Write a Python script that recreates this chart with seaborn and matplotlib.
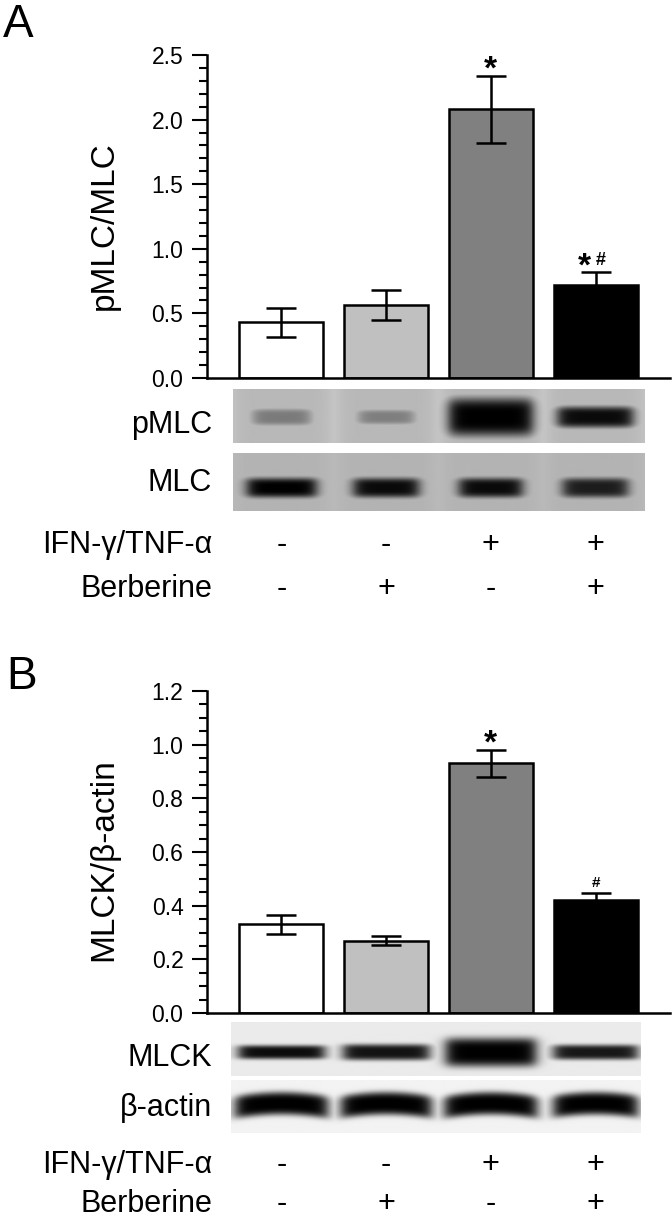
import matplotlib
matplotlib.use('Agg')
import matplotlib.pyplot as plt
import matplotlib.transforms as mtransforms
import numpy as np
import pandas as pd
import seaborn as sns

# ---- data ----
groups = ['Control', 'Berberine', 'IFN/TNF', 'IFN/TNF+Berberine']
bar_colors = ['#ffffff', '#c0c0c0', '#808080', '#000000']

pmlc_ratio = [0.43, 0.565, 2.08, 0.72]
pmlc_sem = [0.115, 0.115, 0.26, 0.10]
pmlc_marks = ['', '', '*', '*#']

mlck_ratio = [0.33, 0.27, 0.93, 0.42]
mlck_sem = [0.035, 0.016, 0.05, 0.028]
mlck_marks = ['', '', '*', '#']

ifn_row = ['-', '-', '+', '+']
berb_row = ['-', '+', '-', '+']

# blot bands per lane: darkness (0 none, 1 black), half-width, thickness
pmlc_band = [0.40, 0.38, 1.0, 0.95]
pmlc_band_w = [0.28, 0.27, 0.40, 0.36]
pmlc_band_h = [0.16, 0.14, 0.36, 0.20]
mlc_band = [1.0, 0.95, 0.95, 0.85]
mlc_band_w = [0.33, 0.31, 0.30, 0.31]
mlck_band = [0.95, 0.92, 1.0, 0.90]
mlck_band_w = [0.41, 0.41, 0.43, 0.40]
mlck_band_h = [0.13, 0.15, 0.27, 0.14]
actin_band = [1.0, 1.0, 1.0, 1.0]
actin_band_w = [0.44, 0.43, 0.44, 0.40]

W, H = 672, 1220
sns.set_style('ticks')
plt.rcParams['font.family'] = ['Liberation Sans', 'DejaVu Sans']
plt.rcParams.update({'text.color': 'black', 'axes.labelcolor': 'black',
                     'xtick.color': 'black', 'ytick.color': 'black',
                     'axes.edgecolor': 'black'})
fig = plt.figure(figsize=(W / 100, H / 100), dpi=100)

XLIM = (-0.71, 3.71)


def px_axes(left, top, right, bottom):
    return fig.add_axes([left / W, 1 - bottom / H, (right - left) / W, (bottom - top) / H])


def bar_panel(top, bottom, vals, sems, marks, ymax, major, minor, ylabel, label_y):
    ax = px_axes(207, top, 670, bottom)
    df = pd.DataFrame({'group': groups, 'value': vals})
    sns.barplot(data=df, x='group', y='value', hue='group', palette=bar_colors,
                edgecolor='black', linewidth=1.8, width=0.8, errorbar=None,
                legend=False, ax=ax, zorder=2)
    ax.errorbar(range(len(vals)), vals, yerr=sems, fmt='none', ecolor='black',
                elinewidth=1.8, capsize=10.5, capthick=1.8, zorder=3)
    ax.set_xlim(*XLIM)
    ax.set_ylim(0, ymax)
    ax.set_yticks(np.arange(0, ymax + 1e-9, major))
    ax.set_yticks(np.arange(0, ymax + 1e-9, minor), minor=True)
    ax.set_yticklabels([f'{v:.1f}' for v in np.arange(0, ymax + 1e-9, major)])
    ax.tick_params(axis='y', which='major', length=11, width=1.5, labelsize=16.5, pad=6)
    ax.tick_params(axis='y', which='minor', length=5.5, width=1.5)
    ax.tick_params(axis='x', bottom=False, labelbottom=False)
    ax.set_xlabel('')
    ax.set_ylabel('')
    for s in ['top', 'right']:
        ax.spines[s].set_visible(False)
    for s in ['left', 'bottom']:
        ax.spines[s].set_linewidth(1.8)
    ax.spines['left'].set_zorder(4)
    # significance marks, placed relative to the top of each error bar
    for i, (v, e, m) in enumerate(zip(vals, sems, marks)):
        if not m:
            continue
        kw = dict(xy=(i, v + e), textcoords='offset points', ha='center',
                  va='baseline', fontweight='bold', annotation_clip=False)
        if m == '*':
            ax.annotate('*', xytext=(0, -2), fontsize=24, **kw)
        elif m == '*#':
            ax.annotate('*', xytext=(-8, -2.5), fontsize=24, **kw)
            ax.annotate('#', xytext=(3.5, 5), fontsize=13, **kw)
        else:
            ax.annotate('#', xytext=(0, 4), fontsize=11, **kw)
    fig.text(104 / W, 1 - label_y / H, ylabel, rotation=90, ha='center', va='center',
             fontsize=24)
    return ax


def blot(top, bottom, x0, x1, bg, amps, widths, heights, yc, curve=0.0, halo=0.0):
    ax = px_axes(207, top, 670, bottom)
    xs = np.linspace(x0, x1, 500)
    ys = np.linspace(0, 1, 80)
    X, Y = np.meshgrid(xs, ys)
    dark = np.zeros_like(X)
    for i, (a, w, h) in enumerate(zip(amps, widths, heights)):
        fx = 1 / (1 + np.exp((np.abs(X - i) - w) / 0.035))
        fy = np.exp(-((Y - yc - curve * (X - i) ** 2) / h) ** 4)
        dark = np.maximum(dark, a * fx * fy)
        if halo:
            hx = 1 / (1 + np.exp((np.abs(X - i) - 0.47) / 0.05))
            dark = np.maximum(dark, halo * hx)
    img = bg * (1 - dark)
    ax.imshow(img, cmap='gray', vmin=0, vmax=1, extent=(x0, x1, 1, 0),
              aspect='auto', interpolation='bilinear')
    ax.set_xlim(*XLIM)
    ax.set_ylim(1, 0)
    ax.axis('off')
    return ax


def row_text(ax, baseline, label, signs):
    tr = mtransforms.blended_transform_factory(ax.transData, fig.transFigure)
    fig.text(212 / W, 1 - baseline / H, label, ha='right', va='baseline', fontsize=22)
    for i, s in enumerate(signs):
        ax.text(i, 1 - baseline / H, s, transform=tr, ha='center', va='baseline',
                fontsize=22)


# ---- panel A ----
fig.text(3 / W, 1 - 37 / H, 'A', ha='left', va='baseline', fontsize=33)
axA = bar_panel(55, 378, pmlc_ratio, pmlc_sem, pmlc_marks, 2.5, 0.5, 0.1,
                'pMLC/MLC', 226)
blot(389, 443, -0.462, 3.471, 0.80, pmlc_band, pmlc_band_w, pmlc_band_h, 0.52, halo=0.1)
blot(453, 511, -0.462, 3.471, 0.74, mlc_band, mlc_band_w, [0.17] * 4, 0.60, halo=0.05)
row_text(axA, 433, 'pMLC', [])
row_text(axA, 491, 'MLC', [])
row_text(axA, 553, 'IFN-γ/TNF-α', ifn_row)
row_text(axA, 597, 'Berberine', berb_row)

# ---- panel B ----
fig.text(6 / W, 1 - 689 / H, 'B', ha='left', va='baseline', fontsize=33)
axB = bar_panel(691, 1013, mlck_ratio, mlck_sem, mlck_marks, 1.2, 0.2, 0.05,
                'MLCK/β-actin', 860)
blot(1022, 1076, -0.48, 3.43, 0.92, mlck_band, mlck_band_w, mlck_band_h, 0.56)
blot(1080, 1133, -0.48, 3.43, 0.95, actin_band, actin_band_w, [0.22] * 4, 0.44, curve=0.4)
row_text(axB, 1066, 'MLCK', [])
row_text(axB, 1116, 'β-actin', [])
row_text(axB, 1173, 'IFN-γ/TNF-α', ifn_row)
row_text(axB, 1212, 'Berberine', berb_row)

fig.savefig('out.png', dpi=100, facecolor='white')
